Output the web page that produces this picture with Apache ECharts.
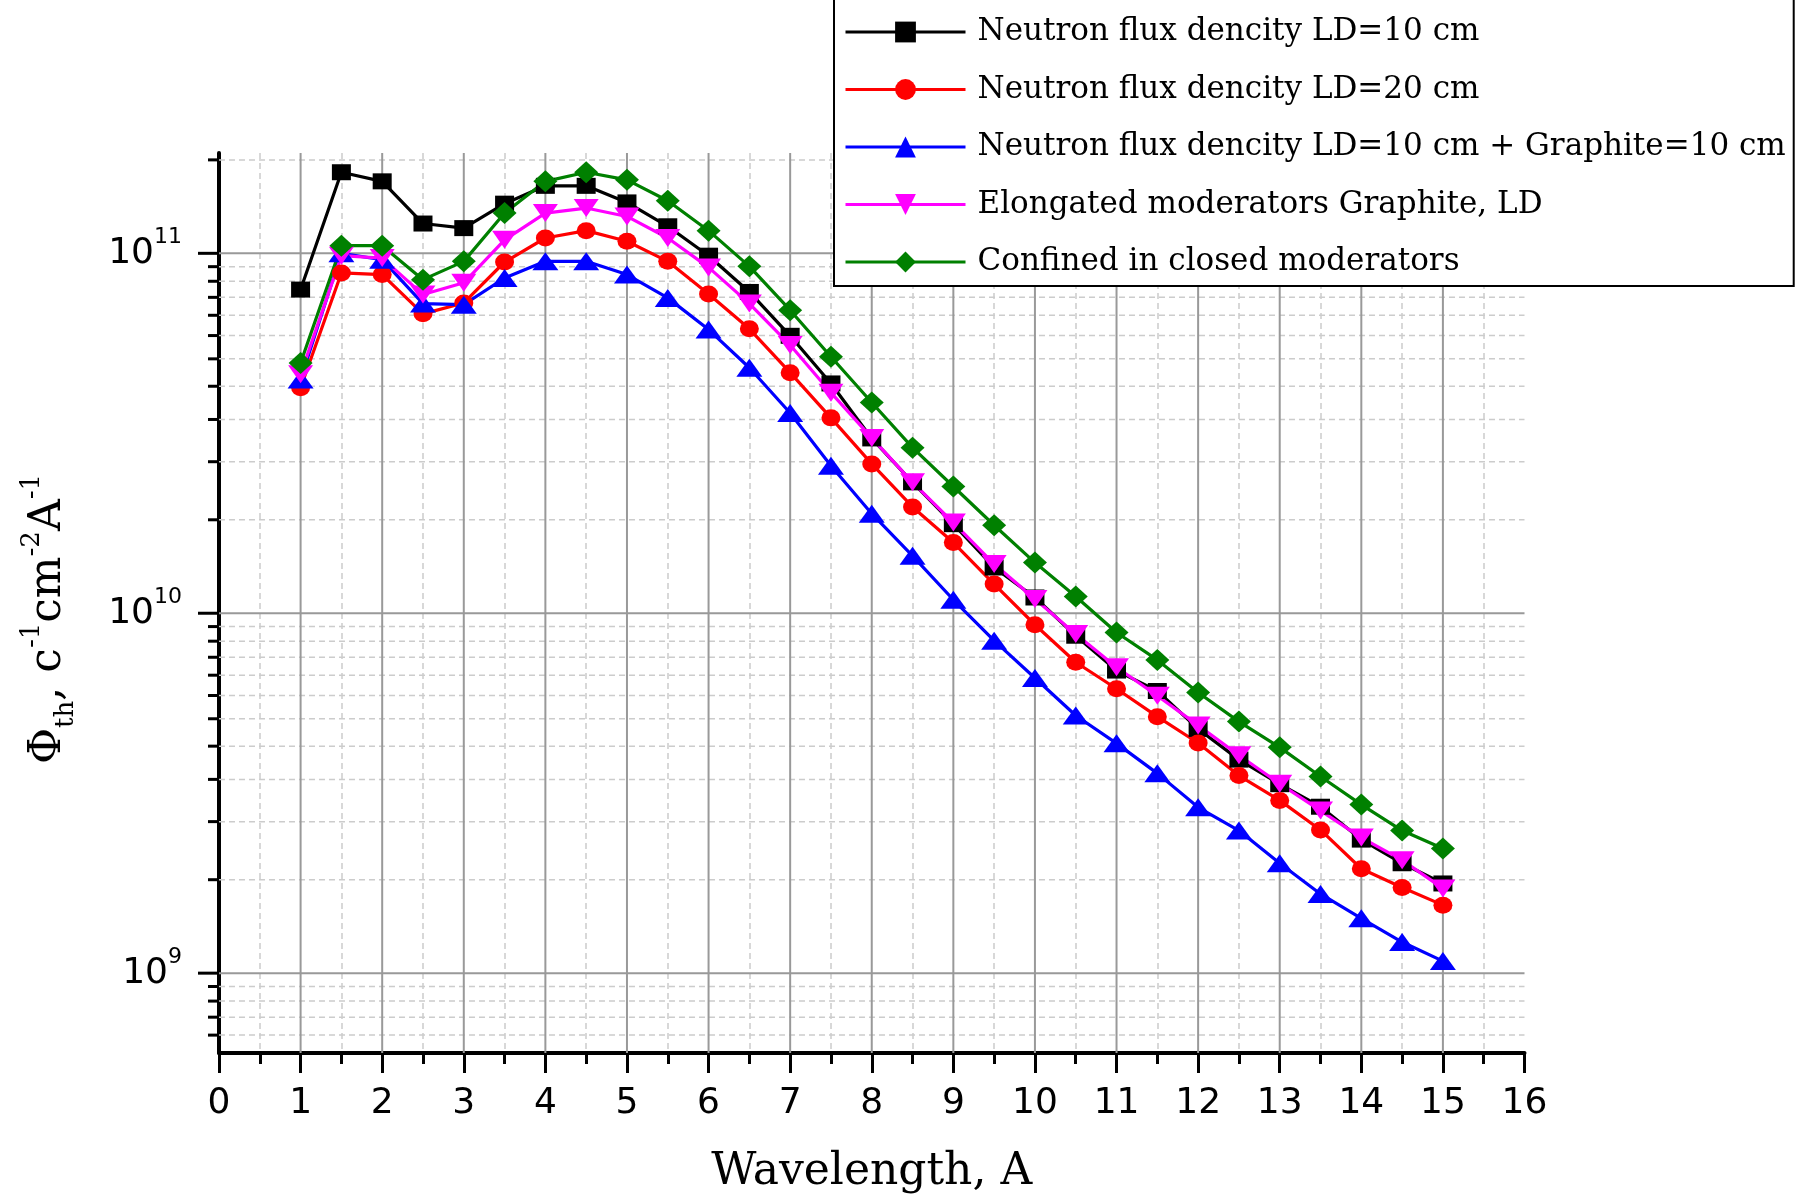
<!DOCTYPE html>
<html>
<head>
<meta charset="utf-8">
<script src="https://cdn.jsdelivr.net/npm/echarts@6/dist/echarts.min.js"></script>
<style>
html,body{margin:0;padding:0;background:#fff;}
#chart{width:1800px;height:1194px;}
</style>
</head>
<body>
<div id="chart"></div>
<script>
// Wavelength, A
const wavelength = [1,1.5,2,2.5,3,3.5,4,4.5,5,5.5,6,6.5,7,7.5,8,8.5,9,9.5,10,10.5,11,11.5,12,12.5,13,13.5,14,14.5,15];

const ld10 = [7.93e10,1.68e11,1.585e11,1.21e11,1.175e11,1.374e11,1.54e11,1.54e11,1.385e11,1.189e11,9.85e10,7.81e10,5.9e10,4.35e10,3.06e10,2.31e10,1.768e10,1.34e10,1.106e10,8.66e9,6.93e9,6.08e9,4.77e9,3.92e9,3.35e9,2.9e9,2.35e9,2.02e9,1.775e9];
const ld20 = [4.23e10,8.82e10,8.73e10,6.79e10,7.28e10,9.46e10,1.103e11,1.156e11,1.08e11,9.5e10,7.71e10,6.17e10,4.66e10,3.49e10,2.6e10,1.974e10,1.572e10,1.205e10,9.29e9,7.31e9,6.17e9,5.16e9,4.36e9,3.54e9,3.02e9,2.5e9,1.95e9,1.73e9,1.545e9];
const ld10graphite = [4.46e10,1.0e11,9.6e10,7.25e10,7.2e10,8.54e10,9.5e10,9.5e10,8.73e10,7.52e10,6.14e10,4.81e10,3.6e10,2.57e10,1.89e10,1.444e10,1.09e10,8.39e9,6.61e9,5.2e9,4.35e9,3.59e9,2.89e9,2.49e9,2.02e9,1.66e9,1.42e9,1.22e9,1.08e9];
const elongated = [4.61e10,9.85e10,9.7e10,7.68e10,8.28e10,1.09e11,1.294e11,1.336e11,1.266e11,1.103e11,9.14e10,7.25e10,5.56e10,4.1e10,3.07e10,2.31e10,1.786e10,1.37e10,1.095e10,8.75e9,7.08e9,5.9e9,4.88e9,4.03e9,3.36e9,2.83e9,2.38e9,2.06e9,1.72e9];
const confined = [4.96e10,1.05e11,1.05e11,8.45e10,9.5e10,1.294e11,1.585e11,1.68e11,1.6e11,1.4e11,1.156e11,9.2e10,6.95e10,5.16e10,3.85e10,2.885e10,2.25e10,1.756e10,1.383e10,1.113e10,8.84e9,7.42e9,6.02e9,5.0e9,4.24e9,3.52e9,2.94e9,2.49e9,2.22e9];

const seriesNames = [
  'Neutron flux dencity LD=10 cm',
  'Neutron flux dencity LD=20 cm',
  'Neutron flux dencity LD=10 cm + Graphite=10 cm',
  'Elongated moderators Graphite, LD',
  'Confined in closed moderators'
];

// axis ranges / tick values
const yMin = 6e8, yMax = 1.9e11;
const yMajorTicks = [1e9, 1e10, 1e11];
const xMajorGrid = [1,2,3,4,5,6,7,8,9,10,11,12,13,14,15];

// Origin-style minor ticks: 10 linear subdivisions (decade split into 11 equal steps)
const yMinorTicks = [];
[1e8, 1e9, 1e10, 1e11].forEach(function (d) {
  for (let k = 1; k <= 10; k++) {
    const v = d + k * 9 * d / 11;
    if (v > yMin && v < yMax) yMinorTicks.push(v);
  }
});

const pairs = arr => wavelength.map((x, i) => [x, arr[i]]);

const chart = echarts.init(document.getElementById('chart'), null, {renderer: 'canvas'});

function hLines(values, gridStyle, tickLen) {
  return {
    type: 'custom', coordinateSystem: 'cartesian2d', silent: true, clip: false, z: 1,
    data: values.map(v => [0, v]),
    renderItem: function (params, api) {
      const cs = params.coordSys;
      const y = api.coord([0, api.value(1)])[1];
      return {
        type: 'group',
        children: [
          {type: 'line', shape: {x1: cs.x, y1: y, x2: cs.x + cs.width, y2: y}, style: gridStyle},
          {type: 'line', shape: {x1: cs.x - tickLen, y1: y, x2: cs.x, y2: y}, style: {stroke: '#000', lineWidth: 3}}
        ]
      };
    }
  };
}

function vLines(values, style) {
  return {
    type: 'custom', coordinateSystem: 'cartesian2d', silent: true, clip: false, z: 1,
    data: values.map(v => [v, 1e10]),
    renderItem: function (params, api) {
      const cs = params.coordSys;
      const x = api.coord([api.value(0), 1e10])[0];
      return {type: 'line', shape: {x1: x, y1: cs.y, x2: x, y2: cs.y + cs.height}, style: style};
    }
  };
}

const serif = 'DejaVu Serif';
const sans = 'DejaVu Sans';

function lineSeries(name, arr, color, symbol, size, rotate) {
  return {
    name: name, type: 'line', data: pairs(arr),
    symbol: symbol, symbolSize: size, symbolRotate: rotate || 0,
    showSymbol: true,
    lineStyle: {color: color, width: 3.2},
    itemStyle: {color: color},
    z: 3
  };
}

const option = {
  animation: false,
  backgroundColor: '#fff',
  grid: {left: 219, right: 275.5, top: 153, bottom: 141, containLabel: false, outerBoundsMode: 'none'},
  legend: {
    orient: 'vertical',
    left: 834,
    top: -12,
    padding: [24, 8, 4, 10],
    itemWidth: 120,
    itemHeight: 26,
    itemGap: 17.5,
    borderColor: '#000',
    borderWidth: 2,
    backgroundColor: '#fff',
    data: seriesNames,
    lineStyle: {width: 3},
    textStyle: {fontFamily: serif, fontSize: 31, color: '#000', lineHeight: 40, padding: [0, 0, 0, 7]}
  },
  xAxis: {
    type: 'value', min: 0, max: 16, interval: 1,
    name: 'Wavelength, A', nameLocation: 'middle', nameGap: 98,
    nameTextStyle: {fontFamily: serif, fontSize: 44, color: '#000', lineHeight: 44},
    axisLine: {show: true, onZero: false, lineStyle: {color: '#000', width: 4}},
    axisTick: {show: true, length: 20, lineStyle: {color: '#000', width: 3}},
    minorTick: {show: true, splitNumber: 2, length: 11, lineStyle: {color: '#000', width: 3}},
    splitLine: {show: false},
    minorSplitLine: {show: true, lineStyle: {color: '#cccccc', width: 1.5, type: [6, 4]}},
    axisLabel: {margin: 33, fontFamily: sans, fontSize: 36, color: '#000', lineHeight: 36}
  },
  yAxis: {
    type: 'log', logBase: 10, min: yMin, max: yMax,
    name: '{a|Φ}{sub|th}{a|, c}{sup|-1}{a|cm}{sup|-2}{a|A}{sup|-1}',
    nameLocation: 'middle', nameGap: 140,
    nameTextStyle: {
      fontFamily: serif, fontSize: 44, color: '#000', padding: [0, 32, 0, 0],
      rich: {
        a: {fontFamily: serif, fontSize: 44, lineHeight: 60, color: '#000'},
        sup: {fontFamily: serif, fontSize: 26, lineHeight: 26, verticalAlign: 'top', color: '#000'},
        sub: {fontFamily: serif, fontSize: 26, lineHeight: 26, verticalAlign: 'bottom', color: '#000'}
      }
    },
    axisLine: {show: true, onZero: false, lineStyle: {color: '#000', width: 4}},
    axisTick: {show: false},
    minorTick: {show: false},
    splitLine: {show: false},
    minorSplitLine: {show: false},
    axisLabel: {
      margin: 37, showMinLabel: false, showMaxLabel: false,
      formatter: function (v) {
        const e = Math.round(Math.log10(v));
        if (Math.abs(v - Math.pow(10, e)) / v > 1e-6) return '';
        return '{b|10}{s|' + e + '}';
      },
      rich: {
        b: {fontFamily: sans, fontSize: 36, lineHeight: 54, color: '#000'},
        s: {fontFamily: sans, fontSize: 22, lineHeight: 22, verticalAlign: 'top', color: '#000'}
      }
    }
  },
  series: [
    hLines(yMinorTicks, {stroke: '#cccccc', lineWidth: 1.5, lineDash: [6, 4]}, 11),
    hLines(yMajorTicks, {stroke: '#999999', lineWidth: 2}, 21),
    vLines(xMajorGrid, {stroke: '#999999', lineWidth: 2}),
    lineSeries(seriesNames[0], ld10, '#000000', 'rect', [19, 16]),
    lineSeries(seriesNames[1], ld20, '#ff0000', 'circle', [19, 17]),
    lineSeries(seriesNames[2], ld10graphite, '#0000ff', 'triangle', [26, 18]),
    lineSeries(seriesNames[3], elongated, '#ff00ff', 'triangle', [25, 18], 180),
    lineSeries(seriesNames[4], confined, '#008000', 'diamond', [24, 22])
  ]
};

chart.setOption(option);
</script>
</body>
</html>
